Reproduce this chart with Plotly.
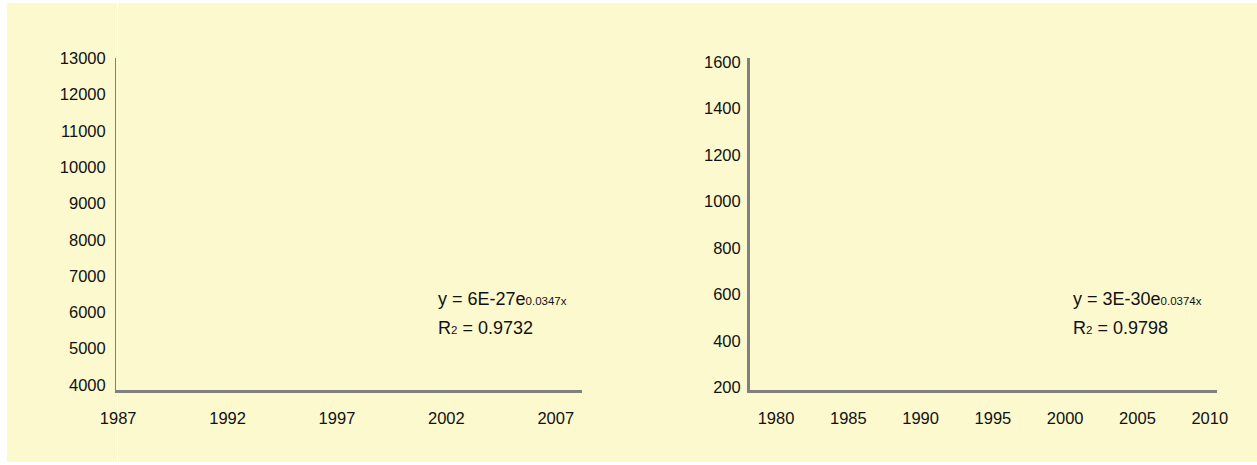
import plotly.graph_objects as go

# ---- data (tick values; no data marks are visible) ----
left_x_ticks = [1987, 1992, 1997, 2002, 2007]
left_y_ticks = [4000, 5000, 6000, 7000, 8000, 9000, 10000, 11000, 12000, 13000]
right_x_ticks = [1980, 1985, 1990, 1995, 2000, 2005, 2010]
right_y_ticks = [200, 400, 600, 800, 1000, 1200, 1400, 1600]

left_x_range = [1986.9, 2008.2]
left_y_range = [3862, 13006]
right_x_range = [1978.2, 2010.5]
right_y_range = [188, 1617]

left_fit = {"a": "6E-27", "b": "0.0347", "r2": "0.9732"}
right_fit = {"a": "3E-30", "b": "0.0374", "r2": "0.9798"}

W, H = 1257, 465
BG = "#FCF9CF"
AXIS = "#808080"
TXT = "#111111"
FONT = "Liberation Sans, Arial, sans-serif"


def px_x(p):
    return p / W


def px_y(p):
    return 1 - p / H


fig = go.Figure()
fig.add_trace(go.Scatter(x=[], y=[], xaxis="x", yaxis="y", showlegend=False))
fig.add_trace(go.Scatter(x=[], y=[], xaxis="x2", yaxis="y2", showlegend=False))

ydom = [px_y(390), px_y(58)]
tickfont = dict(family=FONT, size=16.5, color=TXT)

common_x = dict(showgrid=False, zeroline=False, showline=True, linecolor=AXIS,
                linewidth=3, ticks="", tickfont=tickfont, ticklabelstandoff=11,
                tickformat="d", automargin=False, fixedrange=True)
common_y = dict(showgrid=False, zeroline=False, showline=True, linecolor=AXIS,
                ticks="", tickfont=tickfont,
                tickformat="d", automargin=False, fixedrange=True)

fig.update_layout(
    width=W, height=H, autosize=False,
    margin=dict(l=0, r=0, t=0, b=0, pad=0),
    paper_bgcolor=BG, plot_bgcolor="rgba(0,0,0,0)",
    xaxis=dict(domain=[px_x(116), px_x(582)], range=left_x_range,
               tickvals=left_x_ticks, anchor="y", **common_x),
    yaxis=dict(domain=ydom, range=left_y_range, tickvals=left_y_ticks,
               anchor="x", linewidth=1, ticklabelstandoff=6, **common_y),
    xaxis2=dict(domain=[px_x(750), px_x(1217)], range=right_x_range,
                tickvals=right_x_ticks, anchor="y2", **common_x),
    yaxis2=dict(domain=ydom, range=right_y_range, tickvals=right_y_ticks,
                anchor="x2", linewidth=3, ticklabelstandoff=3, **common_y),
    showlegend=False,
)

# white outer border strips (the picture's frame)
shapes = [
    dict(type="rect", xref="paper", yref="paper", x0=0, x1=px_x(7), y0=0, y1=1,
         fillcolor="white", line_width=0, layer="below"),
    dict(type="rect", xref="paper", yref="paper", x0=0, x1=1, y0=px_y(3), y1=1,
         fillcolor="white", line_width=0, layer="below"),
    dict(type="rect", xref="paper", yref="paper", x0=0, x1=1, y0=0, y1=px_y(462),
         fillcolor="white", line_width=0, layer="below"),
    dict(type="line", xref="paper", yref="paper", x0=px_x(117.5), x1=px_x(117.5),
         y0=0, y1=1, line=dict(color="white", width=1), layer="below"),
]
fig.update_layout(shapes=shapes)

ann_font = dict(family=FONT, size=18, color=TXT)


def eq_text(f):
    return f"y = {f['a']}e<span style='font-size:11.5px'>{f['b']}x</span>"


def r2_text(f):
    return f"R<span style='font-size:11.5px'>2</span> = {f['r2']}"


for fit, x0 in ((left_fit, 436), (right_fit, 1071)):
    fig.add_annotation(text=eq_text(fit), xref="paper", yref="paper",
                       x=px_x(x0), y=px_y(299), xanchor="left", yanchor="middle",
                       showarrow=False, font=ann_font)
    fig.add_annotation(text=r2_text(fit), xref="paper", yref="paper",
                       x=px_x(x0), y=px_y(328), xanchor="left", yanchor="middle",
                       showarrow=False, font=ann_font)

post = ("document.documentElement.style.margin='0';"
        "document.documentElement.style.padding='0';"
        "document.body.style.margin='0';document.body.style.padding='0';"
        "document.documentElement.style.overflow='hidden';"
        "document.body.style.overflow='hidden';")

fig.write_html("out.html", config={"displayModeBar": False}, post_script=post)
